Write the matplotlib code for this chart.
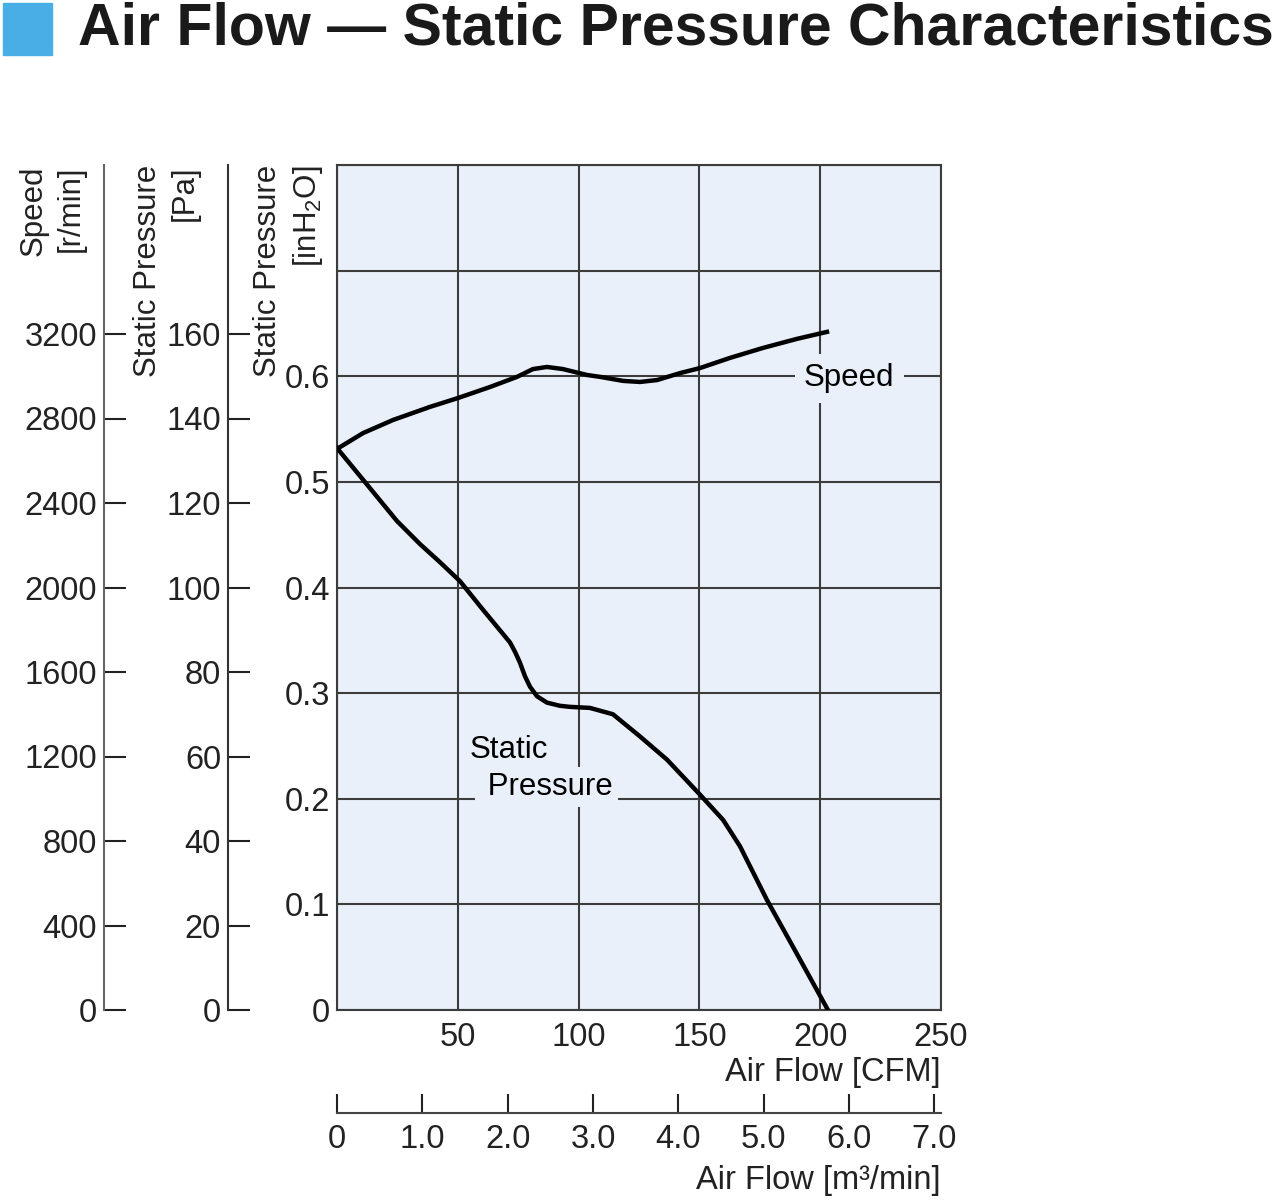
#Air flow - static pressure characteristics of a fan
import numpy as np
import matplotlib
matplotlib.use('Agg')
import matplotlib.pyplot as plt
from matplotlib.patches import Rectangle

plt.rcParams['font.family'] = ['Liberation Sans', 'DejaVu Sans']
plt.rcParams['mathtext.fontset'] = 'custom'
plt.rcParams['mathtext.rm'] = 'Liberation Sans'

# speed curve: air flow [CFM] vs speed [r/min]
speed_cfm = [0, 10.8, 23.2, 38.5, 50.1, 63.3, 74.5, 81.1, 86.9, 93.5, 103.5, 108.9,
             118.4, 125.4, 132.5, 142.0, 150.3, 162.7, 176.3, 190.4, 202.8]
speed_rpm = [2656, 2731, 2793, 2855, 2897, 2949, 2997, 3034, 3044, 3034, 3006, 2997,
             2978, 2973, 2982, 3015, 3039, 3087, 3134, 3177, 3210]

# static pressure curve: air flow [CFM] vs pressure [inH2O]
sp_cfm = [0, 10.8, 24.8, 34.4, 42.6, 50.9, 60.4, 71.6, 73.7, 75.7, 77.8, 79.9, 82.8, 86.9,
          92.3, 96.4, 104.7, 114.2, 125.4, 136.6, 150.2, 159.8, 166.8, 178.0, 188.7, 203.2]
sp_inh2o = [0.532, 0.502, 0.463, 0.441, 0.424, 0.406, 0.379, 0.348, 0.339, 0.329, 0.316, 0.306,
            0.297, 0.291, 0.288, 0.287, 0.286, 0.280, 0.259, 0.237, 0.204, 0.180, 0.155, 0.104,
            0.060, 0.0]

cfm_ticks = [0, 50, 100, 150, 200, 250]
inh2o_ticks = [0, 0.1, 0.2, 0.3, 0.4, 0.5, 0.6, 0.7, 0.8]
inh2o_labels = ['0', '0.1', '0.2', '0.3', '0.4', '0.5', '0.6', '', '']
pa_ticks = [0, 20, 40, 60, 80, 100, 120, 140, 160]
rpm_ticks = [0, 400, 800, 1200, 1600, 2000, 2400, 2800, 3200]
m3_ticks = [0, 1, 2, 3, 4, 5, 6, 7]
m3_labels = ['0', '1.0', '2.0', '3.0', '4.0', '5.0', '6.0', '7.0']

CFM_PER_M3 = 35.3147
bg = '#e9f0f9'
gridc = '#3c3c3c'
tc = '#222222'
fs = 23.5
W, H = 1280, 1201

fig = plt.figure(figsize=(12.8, 12.01), dpi=100)
rect = [337/W, 1-1010/H, 604/W, 845/H]

ax = fig.add_axes(rect)
ax.set_facecolor(bg)
ax.set_xlim(0, 250)
ax.set_ylim(0, 0.8)
ax.set_xticks(cfm_ticks)
ax.set_xticklabels([''] + [str(t) for t in cfm_ticks[1:]])
ax.set_yticks(inh2o_ticks)
ax.set_yticklabels(inh2o_labels)
ax.tick_params(axis='both', length=0, labelsize=fs, colors=tc)
ax.tick_params(axis='x', pad=9)
ax.tick_params(axis='y', pad=5)
ax.grid(True, color=gridc, lw=1.5)
for s in ax.spines.values():
    s.set_color(gridc)
    s.set_linewidth(1.5)

ax.plot(sp_cfm, sp_inh2o, color='black', lw=3.2, solid_joinstyle='round', zorder=5)

# secondary flow axis in m3/min
sec = ax.secondary_xaxis((1010-1113)/845, functions=(lambda x: x/CFM_PER_M3, lambda x: x*CFM_PER_M3))
sec.set_xticks(m3_ticks)
sec.set_xticklabels(m3_labels)
sec.tick_params(direction='in', length=14, width=1.5, labelsize=fs, pad=8, colors=tc)
sec.spines['bottom'].set_color('#444')
sec.spines['bottom'].set_linewidth(1.5)

# Pa axis
ax_pa = fig.add_axes(rect, sharex=ax)
ax_pa.patch.set_visible(False)
ax_pa.set_ylim(0, 200)
ax_pa.set_yticks(pa_ticks)
for k in ['top', 'right', 'bottom']:
    ax_pa.spines[k].set_visible(False)
ax_pa.spines['left'].set_position(('axes', (228-337)/604))
ax_pa.spines['left'].set_color('#333')
ax_pa.spines['left'].set_linewidth(1.5)
ax_pa.tick_params(axis='y', direction='in', length=16, width=1.5, labelsize=fs, pad=5, colors=tc)
ax_pa.xaxis.set_visible(False)

# speed axis
ax_spd = fig.add_axes(rect, sharex=ax)
ax_spd.patch.set_visible(False)
ax_spd.set_ylim(0, 4000)
ax_spd.set_yticks(rpm_ticks)
for k in ['top', 'right', 'bottom']:
    ax_spd.spines[k].set_visible(False)
ax_spd.spines['left'].set_position(('axes', (104-337)/604))
ax_spd.spines['left'].set_color('#666')
ax_spd.spines['left'].set_linewidth(1.5)
ax_spd.tick_params(axis='y', direction='in', length=16, width=1.5, labelsize=fs, pad=5, colors=tc)
ax_spd.xaxis.set_visible(False)
ax_spd.plot(speed_cfm, speed_rpm, color='black', lw=3.2, solid_joinstyle='round', zorder=5)

# curve labels
ax.text(212, 0.598, 'Speed', fontsize=22.5, ha='center', va='center',
        bbox=dict(boxstyle='square,pad=0.3', fc=bg, ec='none'), zorder=4)
ax.text(55, 0.246, 'Static', fontsize=22.5, ha='left', va='center', zorder=4)
ax.text(58.9, 0.211, ' Pressure', fontsize=22.5, ha='left', va='center',
        bbox=dict(boxstyle='square,pad=0.15', fc=bg, ec='none'), zorder=4)

# axis titles
kw = dict(rotation=90, ha='center', va='top', multialignment='right', linespacing=1.3, fontsize=22.5, color=tc)
fig.text(52/W, 1-165/H, 'Speed\n[r/min]', **kw)
fig.text(166/W, 1-165/H, 'Static Pressure\n[Pa]', **kw)
fig.text(289/W, 1-165/H, 'Static Pressure\n[inH$_\\mathregular{2}$O]', **kw)
fig.text(941/W, 1-1072/H, 'Air Flow [CFM]', fontsize=fs, ha='right', va='center', color=tc)
fig.text(941/W, 1-1180/H, 'Air Flow [m³/min]', fontsize=fs, ha='right', va='center', color=tc)

# title
fig.patches.append(Rectangle((3/W, 1-55/H), 49/W, 52/H, transform=fig.transFigure, color='#4aaee6'))
fig.text(78/W, 1-29/H, 'Air Flow — Static Pressure Characteristics', fontsize=42.5,
         fontweight='bold', ha='left', va='center', color='#1a1a1a')

fig.savefig('out.png', dpi=100)
